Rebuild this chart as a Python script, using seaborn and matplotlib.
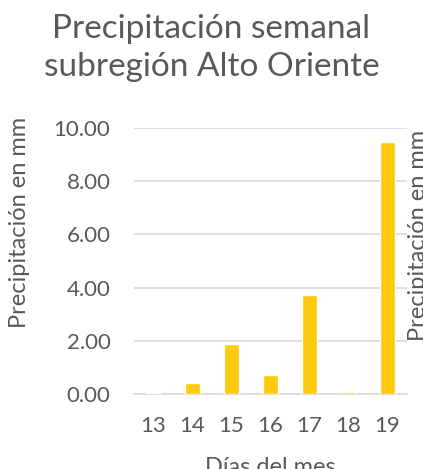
import matplotlib
matplotlib.use("Agg")
import matplotlib.pyplot as plt
import seaborn as sns
import pandas as pd

dias = ["13", "14", "15", "16", "17", "18", "19"]
precipitacion = [0.03, 0.42, 1.87, 0.70, 3.72, 0.08, 9.49]
yticks = [0, 2, 4, 6, 8, 10]
ytick_labels = ["0.00", "2.00", "4.00", "6.00", "8.00", "10.00"]

sns.set_theme(style="white")
plt.rcParams["font.family"] = ["Lato", "DejaVu Sans"]

GRAY = "#595959"
df = pd.DataFrame({"dia": dias, "mm": precipitacion})

fig = plt.figure(figsize=(4.23, 4.69), dpi=100)
ax = fig.add_axes([134 / 423, 1 - 394 / 469, (407 - 134) / 423, (394 - 128) / 469])

sns.barplot(data=df, x="dia", y="mm", color="#FFC90E", saturation=1, width=0.39, ax=ax, zorder=3)

ax.set_ylim(0, 10)
ax.set_yticks(yticks)
ax.set_yticklabels(ytick_labels, color=GRAY, fontsize=16)
ax.tick_params(axis="x", colors=GRAY, labelsize=16, length=0, pad=16)
ax.tick_params(axis="y", length=0, pad=17)
ax.yaxis.grid(True, color="#D9D9D9", linewidth=1.2, zorder=0)
for s in ["top", "right", "left"]:
    ax.spines[s].set_visible(False)
ax.spines["bottom"].set_color("#D9D9D9")
ax.spines["bottom"].set_linewidth(1.2)
ax.set_xlim(-0.5, 6.5)

ax.set_xlabel("Días del mes", color=GRAY, fontsize=17, labelpad=15)
ax.set_ylabel("")
fig.text(20 / 423, 1 - 222 / 469, "Precipitación en mm", rotation=90, color=GRAY,
         fontsize=17, ha="center", va="center")
fig.text(408 / 423, 1 - 235 / 469, "Precipitación en mm", rotation=90, color=GRAY,
         fontsize=17, ha="left", va="center")

fig.text(0.5, 1 - 48 / 469, "Precipitación semanal\nsubregión Alto Oriente", color=GRAY,
         fontsize=24, ha="center", va="center", linespacing=1.3)

fig.savefig("out.png", dpi=100)
